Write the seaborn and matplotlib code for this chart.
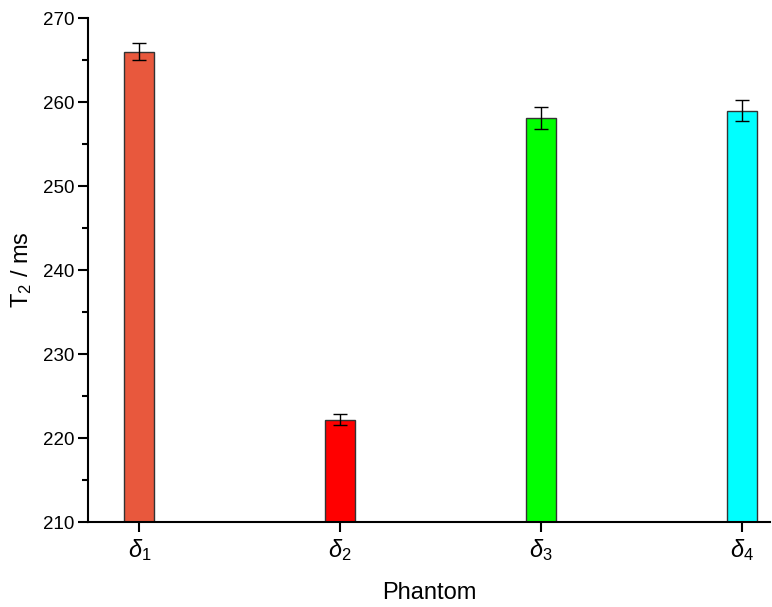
import matplotlib
matplotlib.use("Agg")
import matplotlib.pyplot as plt
import seaborn as sns
import pandas as pd
from matplotlib.ticker import MultipleLocator

categories = [r"$\delta_1$", r"$\delta_2$", r"$\delta_3$", r"$\delta_4$"]
values = [266.0, 222.2, 258.1, 259.0]
errors = [1.0, 0.7, 1.3, 1.3]
colors = ["#E8583D", "#FF0000", "#00FF00", "#00FFFF"]

sns.set_theme(style="ticks")
plt.rcParams["font.family"] = ["Liberation Sans", "DejaVu Sans"]
plt.rcParams["mathtext.fontset"] = "custom"
plt.rcParams["mathtext.rm"] = "Liberation Sans"
plt.rcParams["mathtext.it"] = "Liberation Sans:italic"
plt.rcParams["text.color"] = "black"
plt.rcParams["axes.labelcolor"] = "black"

df = pd.DataFrame({"Phantom": categories, "T2": values})

fig = plt.figure(figsize=(7.72, 6.07), dpi=100)
ax = fig.add_axes([0.114, 0.140, 0.883, 0.830])

sns.barplot(data=df, x="Phantom", y="T2", hue="Phantom", palette=colors,
            saturation=1, width=0.15, dodge=False, legend=False,
            edgecolor="#333333", linewidth=1.0, ax=ax, errorbar=None)
ax.errorbar(range(len(values)), values, yerr=errors, fmt="none",
            ecolor="black", elinewidth=1.0, capsize=5, capthick=1.0)

ax.set_ylim(210, 270)
ax.set_xlim(-0.256, 3.14)
ax.yaxis.set_major_locator(MultipleLocator(10))
ax.yaxis.set_minor_locator(MultipleLocator(5))
ax.tick_params(axis="both", which="major", direction="out", length=7, width=1.5,
               labelsize=13.5, color="black", labelcolor="black")
ax.tick_params(axis="y", which="major", pad=3)
ax.tick_params(axis="y", which="minor", direction="out", length=4, width=1.5, color="black")
ax.tick_params(axis="x", labelsize=17)
for s in ["top", "right"]:
    ax.spines[s].set_visible(False)
for s in ["left", "bottom"]:
    ax.spines[s].set_linewidth(1.5)
    ax.spines[s].set_color("black")

ax.set_xlabel("Phantom", fontsize=17, labelpad=14)
ax.set_ylabel(r"T$_2$ / ms", fontsize=17, labelpad=6)

fig.savefig("out.png", dpi=100)
